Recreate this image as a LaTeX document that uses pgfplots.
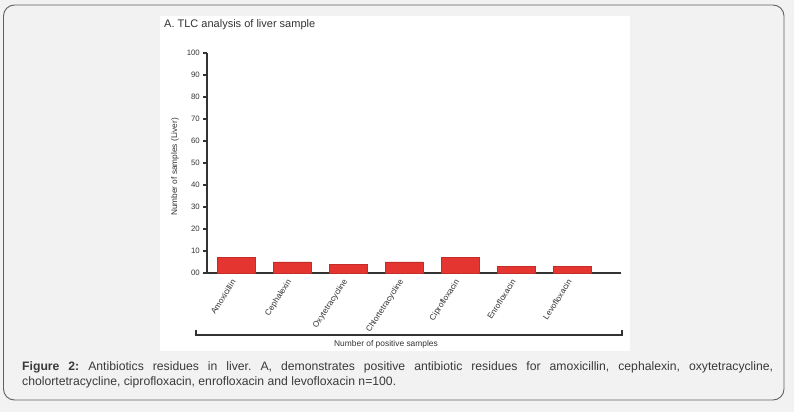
\documentclass[border=0pt]{standalone}
\usepackage{fontspec}
\setmainfont{Liberation Sans}
\usepackage{pgfplots}
\pgfplotsset{compat=1.18}
\definecolor{bgc}{HTML}{F2F2F2}
\definecolor{barred}{HTML}{E53530}
\definecolor{axc}{HTML}{333333}
\definecolor{txt}{HTML}{3A3A3A}
\frenchspacing
\begin{document}
\begin{tikzpicture}[x=1pt,y=1pt]
\fill[bgc] (0,0) rectangle (794,412);
\draw[color=gray!75!black, line width=0.9pt, rounded corners=11pt] (3.5,12) rectangle (784,407);
\fill[white] (160,61) rectangle (630,396);
\node[anchor=west, font=\fontsize{11}{13}\selectfont, text=axc, inner sep=0] at (164,387) {A. TLC analysis of liver sample};
\begin{axis}[
  at={(207pt,139pt)}, anchor=south west,
  scale only axis, width=414pt, height=220pt,
  xmin=-0.518, xmax=6.875, ymin=0, ymax=100,
  axis x line*=bottom, axis y line*=left,
  axis line style={axc, line width=1.4pt},
  ytick={0,10,...,100},
  yticklabels={00,10,20,30,40,50,60,70,80,90,100},
  /pgf/number format/assume math mode=true,
  yticklabel style={font=\fontsize{7.8}{8}\selectfont, text=axc, inner sep=1pt, xshift=-2pt},
  ytick style={axc, line width=1.1pt},
  major tick length=4pt,
  tick align=outside,
  xtick={0,...,6},
  xticklabels={Amoxicillin,Cephalexin,Oxytetracycline,Chlortetracycline,Ciprofloxacin,Enrofloxacin,Levofloxacin},
  xticklabel style={font=\fontsize{8.2}{9}\selectfont, text=axc, rotate=57, anchor=east, inner sep=1pt, xshift=-3pt},
  x tick style={draw=none},
  clip=false,
]
\addplot[ybar, bar width=38pt, fill=barred, draw=barred!85!black, line width=0.3pt] coordinates {(0,7) (1,5) (2,4) (3,5) (4,7) (5,3) (6,3)};
\end{axis}
\node[rotate=90, font=\fontsize{8.3}{9}\selectfont, text=axc, inner sep=0] at (175,245) {Number of samples (Liver)};
\draw[axc, line width=1.1pt] (196,82) -- (196,77) -- (622,77) -- (622,82);
\node[font=\fontsize{8.4}{9}\selectfont, text=axc, inner sep=0] at (386,68) {Number of positive samples};
\node[anchor=north west, inner sep=0, text width=751pt, align=justify, text=txt, font=\fontsize{12.2}{15}\selectfont] at (22,50.5) {\textbf{Figure 2:} Antibiotics residues in liver. A, demonstrates positive antibiotic residues for amoxicillin, cephalexin, oxytetracycline,\linebreak cholortetracycline, ciprofloxacin, enrofloxacin and levofloxacin n=100.};
\end{tikzpicture}
\end{document}
